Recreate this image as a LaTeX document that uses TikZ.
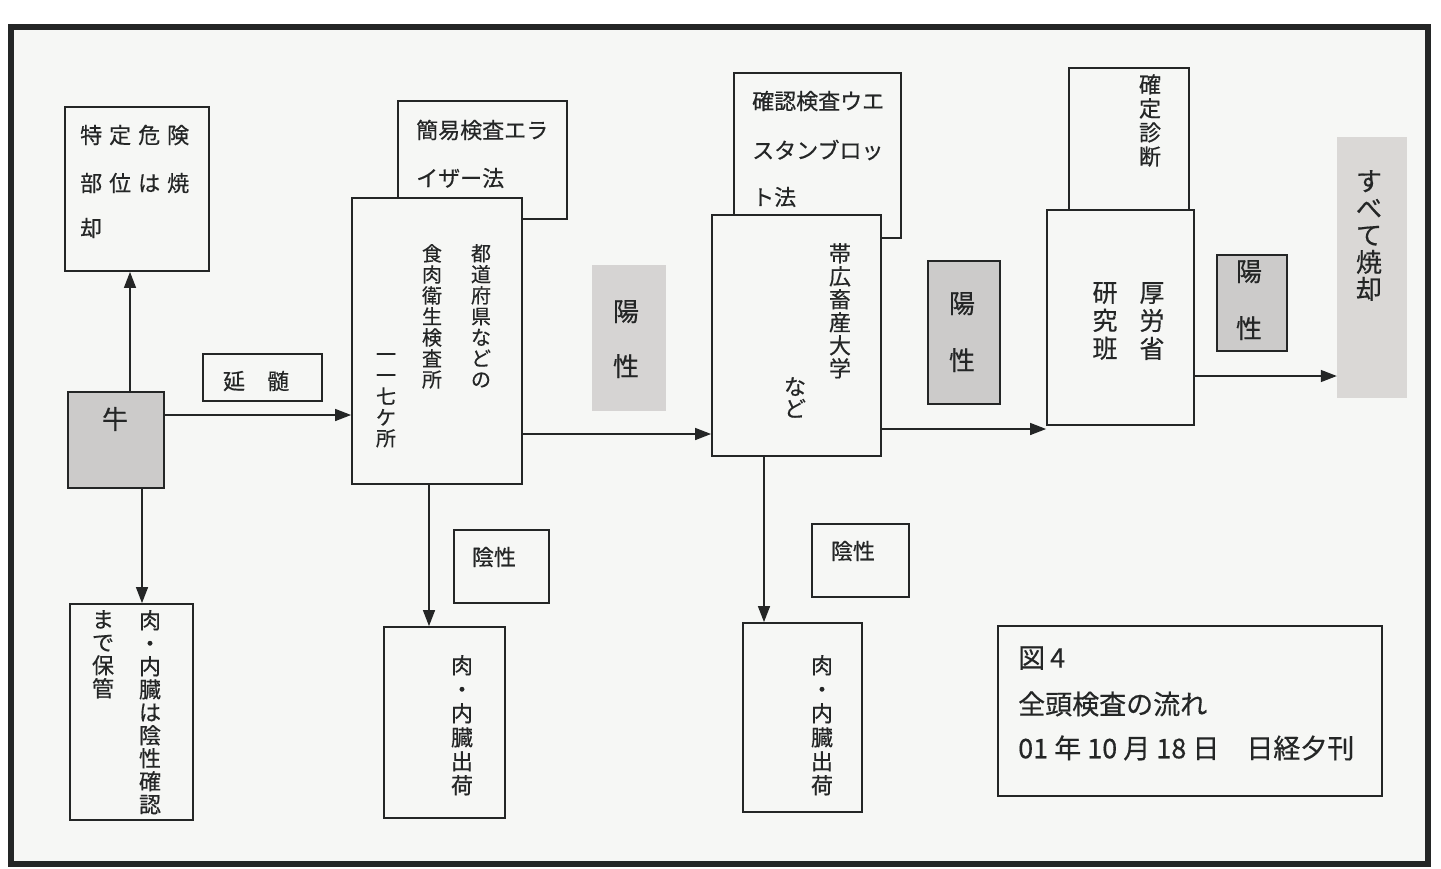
\documentclass[tikz,border=0pt]{standalone}
\usepackage{fontspec}
\setmainfont[FakeBold=0.5]{Noto Sans CJK JP}
\usetikzlibrary{arrows.meta}
\definecolor{ink}{RGB}{36,38,38}
\definecolor{paper}{RGB}{246,247,245}
\definecolor{gfillA}{RGB}{214,212,211}
\definecolor{gfillB}{RGB}{204,203,202}
\definecolor{gfillC}{RGB}{218,216,214}
\newcommand{\jg}{\hspace{7pt}}
\begin{document}
\begin{tikzpicture}[x=1pt,y=-1pt,
  box/.style={draw=ink, line width=1.8pt, fill=paper, inner sep=0pt, rectangle},
  gbox/.style={box, fill=gfillB},
  plainbox/.style={fill=gfillA, draw=none, inner sep=0pt, rectangle},
  conn/.style={draw=ink, line width=1.4pt, -{Triangle[length=16pt,width=12pt]}},
  txt/.style={inner sep=0pt, text=ink, font=\fontsize{22}{24}\selectfont},
  htxt/.style={txt, anchor=west},
  vcol/.style={txt, align=center, anchor=north},
]
% background and frame
\fill[white] (0,0) rectangle (1441,868);
\useasboundingbox (0,0) rectangle (1441,868);
\fill[paper] (11,27) rectangle (1428,864);
\draw[ink, line width=6.5pt] (11,27) rectangle (1428,864);

% boxes
\node[box, minimum width=144pt, minimum height=164pt] (tokutei) at (137,189) {};
\node[gbox, minimum width=96pt, minimum height=96pt] (ushi) at (116,440) {};
\node[box, minimum width=119pt, minimum height=47pt] (enzui) at (262.5,377.5) {};
\node[box, minimum width=169pt, minimum height=118pt] (kan) at (482.5,160) {};
\node[box, minimum width=170pt, minimum height=286pt] (todo) at (437,341) {};
\node[plainbox, minimum width=74pt, minimum height=146pt] (yo1) at (629,338) {};
\node[box, minimum width=167pt, minimum height=165pt] (kaku) at (817.5,155.5) {};
\node[box, minimum width=169pt, minimum height=241pt] (obi) at (796.5,335.5) {};
\node[gbox, minimum width=72pt, minimum height=143pt] (yo2) at (964,332.5) {};
\node[box, minimum width=120pt, minimum height=144pt] (kakutei) at (1129,140) {};
\node[box, minimum width=147pt, minimum height=215pt] (kou) at (1120.5,317.5) {};
\node[gbox, minimum width=70pt, minimum height=96pt] (yo3) at (1252,303) {};
\node[plainbox, fill=gfillC, minimum width=70pt, minimum height=261pt] (subete) at (1372,267.5) {};
\node[box, minimum width=123pt, minimum height=216pt] (niku1) at (131.5,712) {};
\node[box, minimum width=95pt, minimum height=73pt] (in1) at (501.5,566.5) {};
\node[box, minimum width=121pt, minimum height=191pt] (niku2) at (444.5,722.5) {};
\node[box, minimum width=97pt, minimum height=73pt] (in2) at (860.5,560.5) {};
\node[box, minimum width=119pt, minimum height=189pt] (niku3) at (802.5,717.5) {};
\node[box, minimum width=384pt, minimum height=170pt] (fig) at (1190,711) {};

% texts
\node[htxt] (t1a) at (80,135) {特\jg 定\jg 危\jg 険};
\node[htxt] (t1b) at (80,183) {部\jg 位\jg は\jg 焼};
\node[htxt] (t1c) at (80,228) {却};
\node[txt, font=\fontsize{26}{28}\selectfont] (tushi) at (115,419) {牛};
\node[txt] (tenzui) at (256,381) {延　髄};
\node[htxt] (tkan1) at (416,130) {簡易検査エラ};
\node[htxt] (tkan2) at (416,178) {イザー法};
\node[vcol, font=\fontsize{20}{21}\selectfont] (ttodo1) at (481,244) {都\\道\\府\\県\\な\\ど\\の};
\node[vcol, font=\fontsize{20}{21}\selectfont] (ttodo2) at (432,244) {食\\肉\\衛\\生\\検\\査\\所};
\node[vcol, font=\fontsize{20}{21}\selectfont] (ttodo3) at (386,353) {一\\一\\七\\ケ\\所};
\node[vcol, font=\fontsize{26}{55}\selectfont] (tyo1) at (626,300) {陽\\性};
\node[htxt] (tkaku1) at (752,101) {確認検査ウエ};
\node[htxt] (tkaku2) at (752,150) {スタンブロッ};
\node[htxt] (tkaku3) at (752,197) {ト法};
\node[vcol, font=\fontsize{22}{23}\selectfont] (tobi1) at (840,243) {帯\\広\\畜\\産\\大\\学};
\node[vcol, font=\fontsize{22}{22}\selectfont] (tobi2) at (795,377) {な\\ど};
\node[vcol, font=\fontsize{26}{57}\selectfont] (tyo2) at (962,292) {陽\\性};
\node[vcol, font=\fontsize{22}{24}\selectfont] (tkakutei) at (1150,74) {確\\定\\診\\断};
\node[vcol, font=\fontsize{25}{28}\selectfont] (tkou1) at (1152,282) {厚\\労\\省};
\node[vcol, font=\fontsize{25}{28}\selectfont] (tkou2) at (1105,282) {研\\究\\班};
\node[vcol, font=\fontsize{26}{57}\selectfont] (tyo3) at (1249,260) {陽\\性};
\node[vcol, font=\fontsize{26}{27}\selectfont] (tsubete) at (1369,170) {す\\べ\\て\\焼\\却};
\node[vcol, font=\fontsize{22}{23}\selectfont] (tniku1a) at (150,610) {肉\\・\\内\\臓\\は\\陰\\性\\確\\認};
\node[vcol, font=\fontsize{22}{23}\selectfont] (tniku1b) at (103,610) {ま\\で\\保\\管};
\node[txt] (tin1) at (494,557) {陰性};
\node[vcol, font=\fontsize{22}{24}\selectfont] (tniku2) at (462,655) {肉\\・\\内\\臓\\出\\荷};
\node[txt] (tin2) at (853,551) {陰性};
\node[vcol, font=\fontsize{22}{24}\selectfont] (tniku3) at (822,655) {肉\\・\\内\\臓\\出\\荷};
\node[htxt, font=\fontsize{27}{29}\selectfont] (tfig1) at (1018,658) {図\hspace{5pt}4};
\node[htxt, font=\fontsize{27}{29}\selectfont] (tfig2) at (1018,704) {全頭検査の流れ};
\node[htxt, font=\fontsize{27}{29}\selectfont] (tfig3) at (1018,748) {01 年 10 月 18 日　日経夕刊};

% connectors
\draw[conn] ([xshift=14pt]ushi.north) -- ([xshift=14pt]ushi.north |- tokutei.south);
\draw[conn] ([yshift=25pt]ushi.east) -- ([yshift=25pt]ushi.east -| todo.west);
\draw[conn] ([xshift=26pt]ushi.south) -- ([xshift=26pt]ushi.south |- niku1.north);
\draw[conn] ([yshift=-93pt]todo.east) -- ([yshift=-93pt]todo.east -| obi.west);
\draw[conn] ([xshift=-8pt]todo.south) -- ([xshift=-8pt]todo.south |- niku2.north);
\draw[conn] ([yshift=-93.5pt]obi.east) -- ([yshift=-93.5pt]obi.east -| kou.west);
\draw[conn] ([xshift=-32.5pt]obi.south) -- ([xshift=-32.5pt]obi.south |- niku3.north);
\draw[conn] ([yshift=-58.5pt]kou.east) -- ([yshift=-58.5pt]kou.east -| subete.west);
\end{tikzpicture}
\end{document}
